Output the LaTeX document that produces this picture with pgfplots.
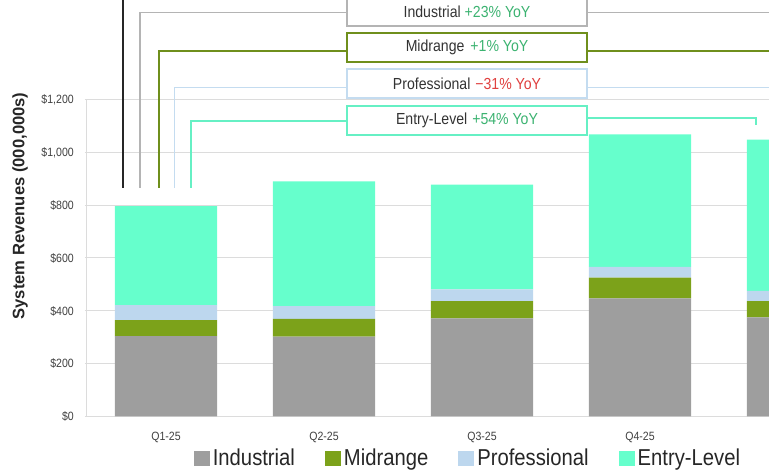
\documentclass[border=0pt]{standalone}
\usepackage{fontspec}
\setmainfont{Liberation Sans}[FakeStretch=0.88]
\newfontfamily\ylabfont{Liberation Sans}
\usepackage{pgfplots}
\pgfplotsset{compat=1.18}
\usepackage{pgfplotstable}

\definecolor{indgray}{HTML}{9E9E9E}
\definecolor{midgreen}{HTML}{7CA21A}
\definecolor{problue}{HTML}{BDD7EE}
\definecolor{entaqua}{HTML}{66FFCC}
\definecolor{gridgray}{HTML}{DCDCDC}
\definecolor{ticktext}{HTML}{404040}
\definecolor{boxgray}{HTML}{B4B4B4}
\definecolor{boxgreen}{HTML}{6F8F1C}
\definecolor{boxblue}{HTML}{C4DCF0}
\definecolor{boxaqua}{HTML}{66F0C4}
\definecolor{upgreen}{HTML}{3CB371}
\definecolor{downred}{HTML}{E0403F}

% System revenues by segment, $ (000,000s)
\pgfplotstableread{
q ind mid pro ent
0 304 61 57 374
1 302 68 48 472
2 371 66 44 397
3 447 79 40 502
4 375 62 39 572
}\revtable

\begin{document}
\begin{tikzpicture}
\useasboundingbox (0,0) rectangle (769pt,470pt);
\clip (0,0) rectangle (769pt,470pt);
\begin{axis}[
  at={(87pt,53.5pt)}, anchor=south west,
  scale only axis, width=790pt, height=317pt,
  xmin=-0.5, xmax=4.5, ymin=0, ymax=1200,
  clip=false,
  ybar stacked, bar width=102pt,
  axis x line*=bottom, axis y line*=left,
  axis line style={draw=gridgray, line width=1pt},
  xtick={0,1,2,3},
  xticklabels={Q1-25,Q2-25,Q3-25,Q4-25},
  xticklabel style={anchor=base, inner sep=0pt, yshift=-21.8pt,
    font=\fontsize{12pt}{14pt}\selectfont, text=ticktext},
  major x tick style={draw=none},
  extra x ticks={0.5,1.5,2.5,3.5},
  extra x tick labels={},
  extra x tick style={grid=none, tick align=outside, major tick length=4pt,
    tick style={draw=gridgray, line width=1pt}},
  ytick={0,200,400,600,800,1000,1200},
  yticklabels={\$0,\$200,\$400,\$600,\$800,{\$1,000},{\$1,200}},
  yticklabel style={anchor=base east, inner sep=0pt, xshift=-11pt, yshift=-4.3pt,
    font=\fontsize{12pt}{14pt}\selectfont, text=ticktext},
  ymajorgrids, grid style={draw=gridgray, line width=1pt},
  major y tick style={draw=gridgray, line width=1pt},
  tick align=outside, major tick length=2pt,
  ylabel={System Revenues (000,000s)},
  ylabel style={at={(axis description cs:-0.0848,0.664)}, anchor=center, rotate=0,
    font=\ylabfont\bfseries\fontsize{16.6pt}{18pt}\selectfont, text=black!85},
  legend columns=4,
  legend style={at={(axis description cs:0.481,-0.1315)}, anchor=center,
    draw=none, fill=none, inner sep=0pt,
    font=\fontsize{23pt}{25pt}\selectfont, text=black!85,
    nodes={inner sep=0pt},
    /tikz/every odd column/.append style={column sep=3pt},
    /tikz/every even column/.append style={column sep=30pt}},
  legend image code/.code={\fill[#1] (0pt,-7.5pt) rectangle (16pt,7.5pt);},
]
\addplot[fill=indgray, draw=none] table[x=q, y=ind] {\revtable};
\addlegendentry{Industrial}
\addplot[fill=midgreen, draw=none] table[x=q, y=mid] {\revtable};
\addlegendentry{Midrange}
\addplot[fill=problue, draw=none] table[x=q, y=pro] {\revtable};
\addlegendentry{Professional}
\addplot[fill=entaqua, draw=none] table[x=q, y=ent] {\revtable};
\addlegendentry{Entry-Level}
\end{axis}

% Year-over-year callouts
\draw[black!85, line width=2pt] (122.7pt,282pt) -- (122.7pt,480pt);
\draw[boxgray, line width=1.6pt] (139.7pt,282pt) |- (347pt,457.5pt);
\draw[boxgray, line width=1.6pt] (587pt,457.5pt) -- (780pt,457.5pt);
\draw[boxgreen, line width=2.4pt] (158.7pt,282pt) |- (347pt,419pt);
\draw[boxgreen, line width=2.4pt] (587pt,419pt) -- (780pt,419pt);
\draw[boxblue, line width=1.6pt] (174.3pt,282pt) |- (347pt,382.5pt);
\draw[boxblue, line width=1.6pt] (587pt,382.5pt) -- (780pt,382.5pt);
\draw[boxaqua, line width=2pt] (191pt,282pt) |- (347pt,349pt);
\draw[boxaqua, line width=2pt] (587pt,351.5pt) -| (756pt,345pt);

\begin{scope}[every node/.style={font=\fontsize{16pt}{18pt}\selectfont, text=black!80}]
\draw[boxgray, line width=2pt, fill=white] (347pt,444pt) rectangle (587pt,474pt);
\node at (467pt,458.5pt) {Industrial {\color{upgreen}+23\% YoY}};
\draw[boxgreen, line width=2.4pt, fill=white] (347pt,407.7pt) rectangle (587pt,436.7pt);
\node at (467pt,422.2pt) {Midrange\hspace{6pt}{\color{upgreen}+1\% YoY}};
\draw[boxblue, line width=1.6pt, fill=white] (347pt,371.7pt) rectangle (587pt,400.7pt);
\node at (467pt,386.2pt) {Professional\hspace{5pt}{\color{downred}−31\% YoY}};
\draw[boxaqua, line width=2pt, fill=white] (347pt,335pt) rectangle (587pt,364pt);
\node at (467pt,349.5pt) {Entry-Level\hspace{5pt}{\color{upgreen}+54\% YoY}};
\end{scope}
\end{tikzpicture}
\end{document}
